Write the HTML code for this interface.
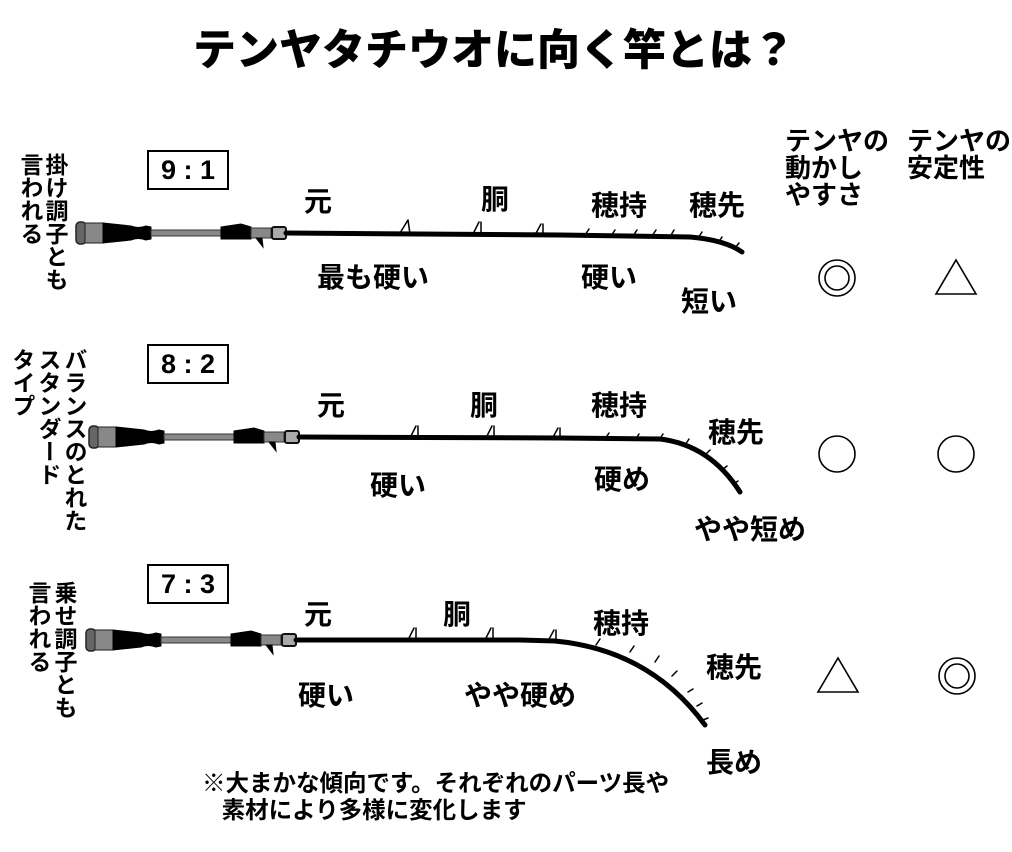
<!DOCTYPE html>
<html><head><meta charset="utf-8"><style>
html,body{margin:0;padding:0;background:#fff;}
body{width:1012px;height:852px;position:relative;overflow:hidden;font-family:"Liberation Sans","Noto Sans CJK JP",sans-serif;color:#000;}
.t{position:absolute;white-space:nowrap;font-weight:bold;}
.v{position:absolute;writing-mode:vertical-rl;font-weight:bold;font-size:23px;line-height:25px;}
.box{position:absolute;border:2px solid #000;font-weight:bold;font-size:27px;text-align:center;line-height:36px;width:78px;height:36px;}
.l{font-size:28px;}
</style></head><body>
<div class="t" style="left:193px;top:16px;font-size:43px;font-weight:900;">テンヤタチウオに向く竿とは？</div>
<div class="t" style="left:785px;top:128px;font-size:26px;line-height:27px;">テンヤの<br>動かし<br>やすさ</div>
<div class="t" style="left:907px;top:128px;font-size:26px;line-height:27px;">テンヤの<br>安定性</div>

<div class="box" style="left:147px;top:150px;">9 : 1</div>
<div class="box" style="left:147px;top:344px;">8 : 2</div>
<div class="box" style="left:147px;top:564px;">7 : 3</div>

<div class="v" style="left:42px;top:153px;">掛け調子とも</div>
<div class="v" style="left:17px;top:153px;">言われる</div>
<div class="v" style="left:61px;top:348px;">バランスのとれた</div>
<div class="v" style="left:35px;top:348px;">スタンダード</div>
<div class="v" style="left:9px;top:348px;">タイプ</div>
<div class="v" style="left:51px;top:581px;">乗せ調子とも</div>
<div class="v" style="left:25px;top:581px;">言われる</div>

<div class="t l" style="left:304px;top:180px;">元</div>
<div class="t l" style="left:481px;top:178px;">胴</div>
<div class="t l" style="left:591px;top:184px;">穂持</div>
<div class="t l" style="left:689px;top:184px;">穂先</div>
<div class="t l" style="left:317px;top:256px;">最も硬い</div>
<div class="t l" style="left:581px;top:256px;">硬い</div>
<div class="t l" style="left:681px;top:280px;">短い</div>

<div class="t l" style="left:317px;top:384px;">元</div>
<div class="t l" style="left:470px;top:384px;">胴</div>
<div class="t l" style="left:591px;top:384px;">穂持</div>
<div class="t l" style="left:708px;top:411px;">穂先</div>
<div class="t l" style="left:370px;top:464px;">硬い</div>
<div class="t l" style="left:594px;top:458px;">硬め</div>
<div class="t l" style="left:694px;top:508px;">やや短め</div>

<div class="t l" style="left:304px;top:593px;">元</div>
<div class="t l" style="left:443px;top:593px;">胴</div>
<div class="t l" style="left:593px;top:602px;">穂持</div>
<div class="t l" style="left:706px;top:646px;">穂先</div>
<div class="t l" style="left:298px;top:674px;">硬い</div>
<div class="t l" style="left:464px;top:674px;">やや硬め</div>
<div class="t l" style="left:706px;top:741px;">長め</div>

<div class="t" style="left:202px;top:770px;font-size:23.5px;line-height:27px;">※大まかな傾向です。それぞれのパーツ長や<br>&nbsp;&nbsp;&nbsp;素材により多様に変化します</div>

<svg width="1012" height="852" style="position:absolute;left:0;top:0" xmlns="http://www.w3.org/2000/svg">
<defs>
<g id="handle">
  <rect x="0" y="-11" width="10" height="22" rx="4" fill="#666" stroke="#222" stroke-width="1.5"/>
  <rect x="9" y="-10" width="18" height="20" fill="#888" stroke="#222" stroke-width="1"/>
  <path d="M27,-10 L55,-7 Q62,-4 70,-7 L75,-6 L75,6 L70,7 Q62,4 55,7 L27,10 Z" fill="#000"/>
  <rect x="75" y="-3" width="70" height="6" fill="#888" stroke="#333" stroke-width="1"/>
  <path d="M145,-6 L165,-9 L175,-6 L175,6 L145,6 Z" fill="#000"/>
  <rect x="175" y="-5" width="20" height="10" fill="#888" stroke="#333" stroke-width="1"/>
  <path d="M180,5 L187,14 L186,5 Z" fill="#000"/>
  <rect x="196" y="-6" width="14" height="12" rx="2" fill="#aaa" stroke="#111" stroke-width="2"/>
</g>
</defs>
<g fill="none" stroke="#000" stroke-linecap="round">
<use href="#handle" x="76" y="233"/>
<path d="M286,233 L560,235 L690,237 Q725,240 742,252" stroke-width="5"/>
<path d="M400,233 l8,-13 M410,234 l-2,-14 M473,234 l6,-12 M481,234 l0,-12 M535,235 l6,-11 M543,235 l0,-11 M585,235 l4,-6 M611,236 l4,-6 M633,236 l4,-6 M652,236 l4,-6 M670,237 l4,-7 M698,238 l4,-6 M718,243 l4,-6 M735,248 l4,-5" stroke-width="1.5"/>
<use href="#handle" x="89" y="437"/>
<path d="M299,437 L560,438 L660,439 Q710,445 740,492" stroke-width="5"/>
<path d="M410,438 l6,-12 M418,438 l0,-12 M486,438 l6,-12 M494,438 l0,-12 M552,439 l6,-11 M560,439 l0,-11 M605,439 l4,-6 M635,440 l4,-6 M659,440 l4,-6 M685,445 l4,-6 M705,455 l5,-5 M722,470 l5,-4 M733,484 l5,-3" stroke-width="1.5"/>
<use href="#handle" x="86" y="640"/>
<path d="M296,640 L520,640 L555,641 Q650,650 705,725" stroke-width="5"/>
<path d="M408,640 l6,-12 M416,640 l0,-12 M485,640 l6,-12 M493,640 l0,-12 M548,641 l6,-11 M556,641 l0,-11 M596,645 l4,-6 M630,652 l4,-6 M655,662 l4,-6 M672,676 l5,-5 M688,692 l5,-3 M697,706 l5,-3 M703,720 l5,-2" stroke-width="1.5"/>
</g>
<g fill="none" stroke="#000" stroke-width="1.6">
<circle cx="837" cy="278" r="18"/><circle cx="837" cy="278" r="12"/>
<polygon points="956,260 976,294 936,294"/>
<circle cx="837" cy="454" r="18"/>
<circle cx="956" cy="454" r="18"/>
<polygon points="838,658 858,692 818,692"/>
<circle cx="957" cy="676" r="18"/><circle cx="957" cy="676" r="12"/>
</g>
</svg>
</body></html>
